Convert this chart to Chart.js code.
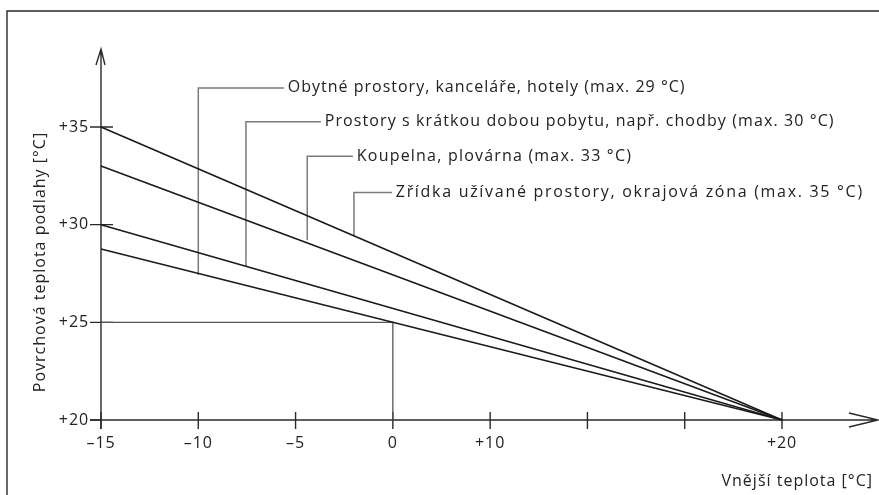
<!DOCTYPE html>
<html>
<head>
<meta charset="utf-8">
<script src="https://cdn.jsdelivr.net/npm/chart.js@4.4.1/dist/chart.umd.min.js"></script>
<style>
  html, body { margin: 0; padding: 0; background: #fff; }
  #wrap { width: 879px; height: 495px; position: relative; }
</style>
</head>
<body>
<div id="wrap"><canvas id="graf" width="879" height="495"></canvas></div>
<script>
// osa x (venkovni teplota) a osa y (povrchova teplota)
var xTicks = [-15, -10, -5, 0, 5, 10, 15, 20];
var xTickLabels = ['\u201315', '\u201310', '\u20135', '0', '+10', '', '', '+20'];
var yTicks = [20, 25, 30, 35];
var yTickLabels = ['+20', '+25', '+30', '+35'];

// primky: hodnota pri -15 a pri +20
var lineX = [-15, 20];
var lineStart = [28.75, 30, 33, 35];
var lineEnd = [20, 20, 20, 20];

// popisky s odkazovou carou
var labelTexts = [
  'Obytné prostory, kanceláře, hotely (max. 29 °C)',
  'Prostory s krátkou dobou pobytu, např. chodby (max. 30 °C)',
  'Koupelna, plovárna (max. 33 °C)',
  'Zřídka užívané prostory, okrajová zóna (max. 35 °C)'
];
var labelAnchorX = [-10, -7.55, -4.4, -2.0];
var labelAnchorY = [27.44, 27.85, 29.2, 29.45];
var labelLevelY = [37.0, 35.27, 33.5, 31.65];
var labelTextX = [-5.4, -3.5, -1.85, 0.15];
var labelSpacing = ['1px', '1.1px', '1.2px', '1.7px'];

// pomocna cara pro +25 pri 0
var refX = [-15, 0, 0];
var refY = [25, 25, 20];

var datasets = [];
for (var i = 0; i < lineStart.length; i++) {
  datasets.push({
    data: [{x: lineX[0], y: lineStart[i]}, {x: lineX[1], y: lineEnd[i]}],
    borderColor: '#1a1a1a', borderWidth: 1.6, showLine: true, pointRadius: 0, clip: false
  });
}
for (var j = 0; j < labelTexts.length; j++) {
  datasets.push({
    data: [
      {x: labelAnchorX[j], y: labelAnchorY[j]},
      {x: labelAnchorX[j], y: labelLevelY[j]},
      {x: labelTextX[j] - 0.2, y: labelLevelY[j]}
    ],
    borderColor: '#7a7a7a', borderWidth: 1.5, showLine: true, pointRadius: 0, clip: false
  });
}
datasets.push({
  data: refX.map(function (v, k) { return {x: v, y: refY[k]}; }),
  borderColor: '#555', borderWidth: 1.3, showLine: true, pointRadius: 0, clip: false
});

var FONT = '"Open Sans", "Noto Sans", sans-serif';

var kresba = {
  id: 'kresba',
  beforeDraw: function (chart) {
    chart.ctx.letterSpacing = '0.9px';
  },
  beforeDatasetsDraw: function (chart) {
    var ctx = chart.ctx;
    var xs = chart.scales.x, ys = chart.scales.y;
    var x0 = xs.getPixelForValue(-15), y0 = ys.getPixelForValue(20);
    ctx.save();
    ctx.strokeStyle = '#2a2a2a';
    ctx.lineWidth = 1.4;
    // ramecek
    ctx.beginPath();
    ctx.moveTo(7, 495); ctx.lineTo(7, 11); ctx.lineTo(879, 11);
    ctx.stroke();
    // osy
    ctx.beginPath();
    ctx.moveTo(x0, y0 + 9); ctx.lineTo(x0, 49);
    ctx.moveTo(x0 - 5, 65); ctx.lineTo(x0, 49); ctx.lineTo(x0 + 4, 65);
    ctx.moveTo(x0 - 11, y0); ctx.lineTo(878, y0);
    ctx.moveTo(849, y0 - 7); ctx.lineTo(878, y0); ctx.lineTo(849, y0 + 7);
    ctx.stroke();
    // znacky
    ctx.beginPath();
    xTicks.forEach(function (v) {
      var px = xs.getPixelForValue(v);
      ctx.moveTo(px, y0 - 8); ctx.lineTo(px, y0 + 9);
    });
    yTicks.forEach(function (v) {
      var py = ys.getPixelForValue(v);
      ctx.moveTo(x0 - 11, py); ctx.lineTo(v === 20 ? x0 : x0 + 12, py);
    });
    ctx.stroke();
    ctx.restore();
  },
  afterDraw: function (chart) {
    var ctx = chart.ctx;
    var xs = chart.scales.x, ys = chart.scales.y;
    ctx.save();
    ctx.fillStyle = '#222';
    ctx.font = '16px ' + FONT;
    ctx.textBaseline = 'middle';
    ctx.textAlign = 'left';
    for (var i = 0; i < labelTexts.length; i++) {
      ctx.letterSpacing = labelSpacing[i];
      ctx.fillText(labelTexts[i], xs.getPixelForValue(labelTextX[i]), ys.getPixelForValue(labelLevelY[i]));
    }
    ctx.letterSpacing = '1px';
    ctx.textAlign = 'right';
    ctx.fillText('Vnější teplota [°C]', 873, 481);
    ctx.translate(40, 262);
    ctx.rotate(-Math.PI / 2);
    ctx.textAlign = 'center';
    ctx.fillText('Povrchová teplota podlahy [°C]', 0, 0);
    ctx.restore();
  }
};

new Chart(document.getElementById('graf'), {
  type: 'scatter',
  data: { datasets: datasets },
  options: {
    responsive: false,
    animation: false,
    layout: { padding: { left: 0, top: 127, right: 97, bottom: 0 } },
    plugins: { legend: { display: false }, tooltip: { enabled: false } },
    scales: {
      x: {
        type: 'linear', min: -15, max: 20,
        afterFit: function (s) { s.height = 75; },
        afterBuildTicks: function (s) { s.ticks = xTicks.map(function (v) { return {value: v}; }); },
        grid: { display: false, drawTicks: false },
        border: { display: false },
        ticks: {
          padding: 14, color: '#222', font: { family: FONT, size: 16 },
          maxRotation: 0, autoSkip: false,
          callback: function (v) { return xTickLabels[xTicks.indexOf(v)]; }
        }
      },
      y: {
        type: 'linear', min: 20, max: 35,
        afterFit: function (s) { s.width = 101; },
        afterBuildTicks: function (s) { s.ticks = yTicks.map(function (v) { return {value: v}; }); },
        grid: { display: false, drawTicks: false },
        border: { display: false },
        ticks: {
          padding: 12, color: '#222', font: { family: FONT, size: 16 },
          callback: function (v) { return yTickLabels[yTicks.indexOf(v)]; }
        }
      }
    }
  },
  plugins: [kresba]
});
</script>
</body>
</html>
